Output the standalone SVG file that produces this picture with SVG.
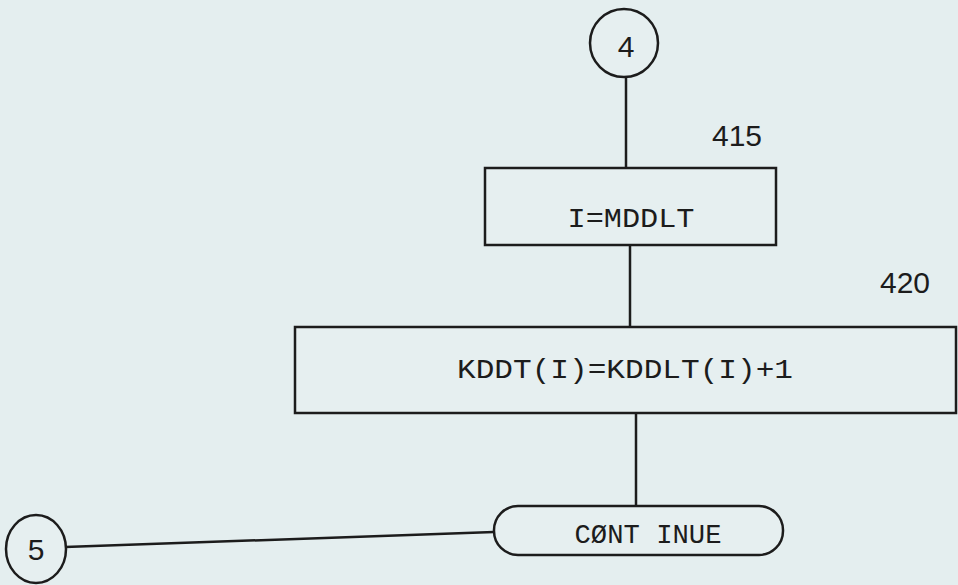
<svg xmlns="http://www.w3.org/2000/svg" width="958" height="585" viewBox="0 0 958 585">
<style>
.s{fill:none;stroke:#1c1c1c;stroke-width:2.5}
.b{fill:#e6eff0;stroke:#1c1c1c;stroke-width:2.5}
.t{font-family:"Liberation Mono","DejaVu Sans Mono",monospace;font-size:27px;fill:#1c1c1c;text-anchor:middle}
.h{font-family:"Liberation Sans",sans-serif;font-size:30px;fill:#1c1c1c;text-anchor:middle}
</style>
<rect width="958" height="585" fill="#e4eeef"/>
<g id="connectors">
<line class="s" x1="626" y1="77" x2="626" y2="168"/>
<line class="s" x1="630" y1="245" x2="630" y2="327"/>
<line class="s" x1="636" y1="413" x2="636" y2="505"/>
<line class="s" x1="65" y1="547" x2="494" y2="532"/>
</g>
<g id="c4">
<circle class="b" cx="624" cy="43" r="34"/>
<text class="h" x="626" y="57">4</text>
</g>
<g id="n415">
<rect class="b" x="485" y="168" width="291" height="77"/>
<text class="t" x="631" y="227" textLength="127" lengthAdjust="spacingAndGlyphs">I=MDDLT</text>
<text class="h" x="737" y="146">415</text>
</g>
<g id="n420">
<rect class="b" x="295" y="327" width="661" height="86"/>
<text class="t" x="625" y="378" textLength="336" lengthAdjust="spacingAndGlyphs">KDDT(I)=KDDLT(I)+1</text>
<text class="h" x="905" y="293">420</text>
</g>
<g id="cont">
<rect class="b" x="494" y="506" width="289" height="49" rx="24" ry="24"/>
<text class="t" x="648" y="543" textLength="147" lengthAdjust="spacingAndGlyphs">CØNT INUE</text>
</g>
<g id="c5">
<ellipse class="b" cx="36" cy="549" rx="30" ry="34"/>
<text class="h" x="36" y="560" font-size="32">5</text>
</g>
</svg>
